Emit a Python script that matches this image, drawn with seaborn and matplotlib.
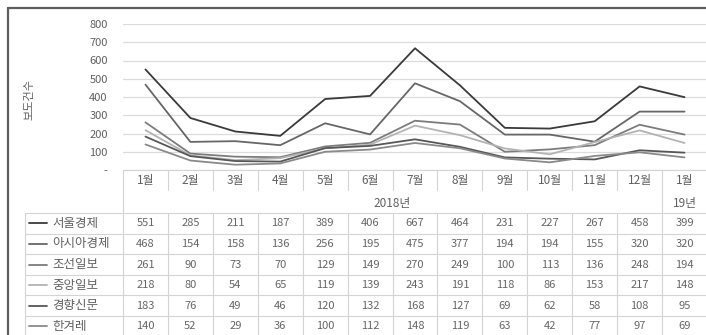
import numpy as np
import pandas as pd
import matplotlib
matplotlib.use('Agg')
import matplotlib.pyplot as plt
import seaborn as sns
from matplotlib.transforms import blended_transform_factory
from matplotlib.lines import Line2D

# ---- data ----
months = ['1월', '2월', '3월', '4월', '5월', '6월', '7월', '8월', '9월', '10월', '11월', '12월', '1월']
year_labels = ['2018년', '19년']
papers = ['서울경제', '아시아경제', '조선일보', '중앙일보', '경향신문', '한겨레']
seoul = [551, 285, 211, 187, 389, 406, 667, 464, 231, 227, 267, 458, 399]
asia = [468, 154, 158, 136, 256, 195, 475, 377, 194, 194, 155, 320, 320]
chosun = [261, 90, 73, 70, 129, 149, 270, 249, 100, 113, 136, 248, 194]
joongang = [218, 80, 54, 65, 119, 139, 243, 191, 118, 86, 153, 217, 148]
kyunghyang = [183, 76, 49, 46, 120, 132, 168, 127, 69, 62, 58, 108, 95]
hani = [140, 52, 29, 36, 100, 112, 148, 119, 63, 42, 77, 97, 69]
series = [seoul, asia, chosun, joongang, kyunghyang, hani]
colors = ['#3a3a3a', '#676767', '#7c7c7c', '#b3b3b3', '#575757', '#8a8a8a']
yticks = [0, 100, 200, 300, 400, 500, 600, 700, 800]

rows = []
for p, vals in zip(papers, series):
    for i, v in enumerate(vals):
        rows.append({'paper': p, 'idx': i, 'value': v})
df = pd.DataFrame(rows)

sns.set_theme(style='white')
plt.rcParams['font.family'] = ['Noto Sans CJK KR', 'DejaVu Sans']

W, H = 706, 335
fig = plt.figure(figsize=(W / 100, H / 100), dpi=100)
fig.patch.set_facecolor('white')

# overlay in pixel coordinates for table / frame
tab = fig.add_axes([0, 0, 1, 1])
tab.set_xlim(0, W)
tab.set_ylim(H, 0)
tab.axis('off')
tab.patch.set_alpha(0)

x0, x1 = 123, 707
y0, y1 = 170, 24
ax = fig.add_axes([x0 / W, (H - y0) / H, (x1 - x0) / W, (y0 - y1) / H])
ax.patch.set_alpha(0)

sns.lineplot(data=df, x='idx', y='value', hue='paper', hue_order=papers,
             palette=dict(zip(papers, colors)), linewidth=1.3, legend=False, ax=ax)

ax.set_xlim(-0.5, 12.5)
ax.set_ylim(0, 800)
ax.set_yticks(yticks)
ax.set_yticklabels(['-' if t == 0 else str(t) for t in yticks])
ax.set_xticks(range(len(months)))
ax.set_xticklabels(months)
ax.tick_params(axis='y', length=0, pad=11, labelsize=8, labelcolor='#606060')
ax.tick_params(axis='x', length=0, pad=3, labelsize=8.5, labelcolor='#606060')
ax.yaxis.grid(True, color='#dcdcdc', lw=0.9)
ax.xaxis.grid(False)
for s in ax.spines.values():
    s.set_visible(False)
ax.set_xlabel('')
ax.set_ylabel('보도건수', fontsize=8, color='#606060')
ax.yaxis.set_label_coords((34 - x0) / (x1 - x0), (y0 - 100) / (y0 - y1))

trans = blended_transform_factory(ax.transData, tab.transData)
lc = '#d4d4d4'
n = len(months)

# header dividers
for k in range(n + 1):
    xb = k - 0.5
    bottom = 213 if k in (0, n - 1, n) else 190
    tab.add_line(Line2D([xb, xb], [170, bottom], transform=trans, color=lc, lw=0.8))
tab.add_line(Line2D([-0.5, 12.5], [170, 170], transform=trans, color=lc, lw=0.8))
tab.text(5.5, 204, year_labels[0], transform=trans, ha='center', va='center',
         fontsize=8.5, color='#606060')
tab.text(12, 204, year_labels[1], transform=trans, ha='center', va='center',
         fontsize=8.5, color='#606060')

# data rows
row_h = 20.6
top = 213
for r in range(len(papers) + 1):
    yy = top + r * row_h
    tab.plot([25, W], [yy, yy], color=lc, lw=0.8)
tab.plot([25, 25], [top, H], color=lc, lw=0.8)
for k in range(n + 1):
    xb = k - 0.5
    tab.add_line(Line2D([xb, xb], [top, H], transform=trans, color=lc, lw=0.8))

for r, (p, vals, c) in enumerate(zip(papers, series, colors)):
    yc = top + (r + 0.5) * row_h
    tab.plot([29, 47], [yc, yc], color=c, lw=1.3)
    tab.text(52, yc, p, ha='left', va='center', fontsize=9, color='#606060')
    for i, v in enumerate(vals):
        tab.text(i, yc, str(v), transform=trans, ha='center', va='center',
                 fontsize=8, color='#666666')

# outer frame (top and left)
tab.plot([8, W], [8, 8], color='#5e5e5e', lw=1.6)
tab.plot([8, 8], [8, H], color='#5e5e5e', lw=1.6)

fig.savefig('out.png', dpi=100, facecolor='white')
